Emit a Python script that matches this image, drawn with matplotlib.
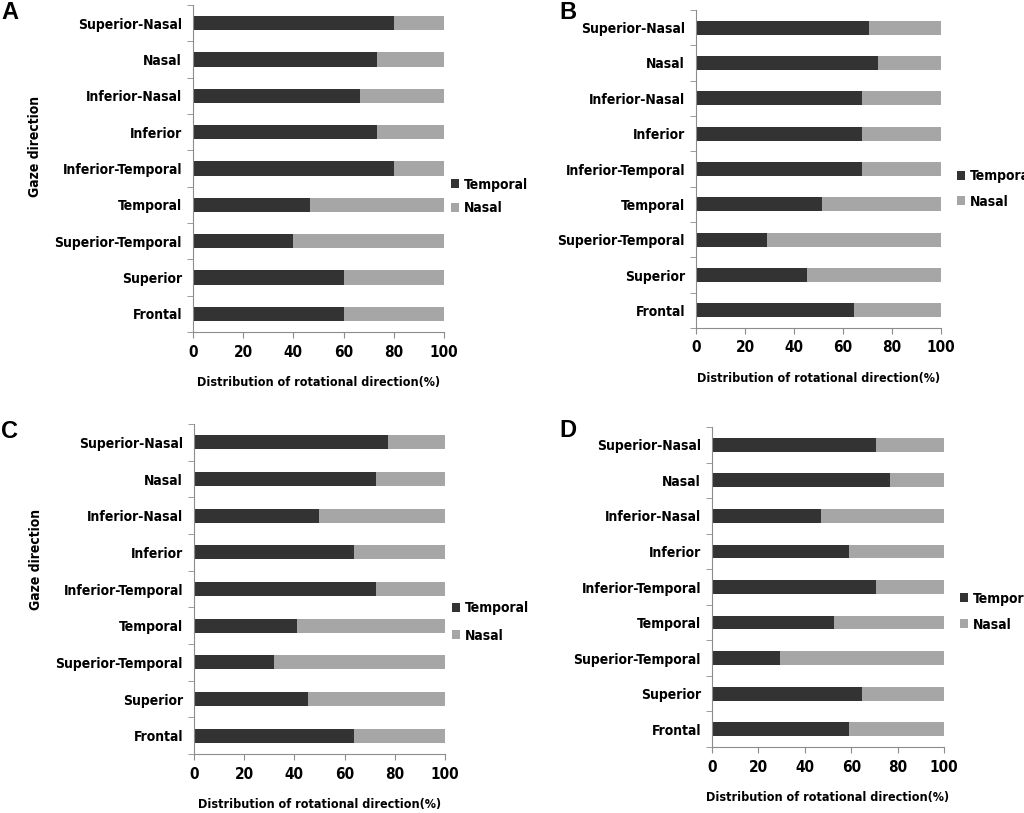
import numpy as np
import matplotlib
matplotlib.use("Agg")
import matplotlib.pyplot as plt

plt.rcParams["font.family"] = ["DejaVu Sans"]
plt.rcParams["font.stretch"] = "condensed"
plt.rcParams["font.weight"] = "bold"
plt.rcParams["axes.labelweight"] = "bold"

# categorias (de abajo hacia arriba)
categorias = [
    "Frontal", "Superior", "Superior-Temporal", "Temporal",
    "Inferior-Temporal", "Inferior", "Inferior-Nasal", "Nasal", "Superior-Nasal",
]

# porcentaje temporal por panel (mismo orden que categorias)
temporal_A = [60, 60, 40, 46.7, 80, 73.3, 66.7, 73.3, 80]
temporal_B = [64.4, 45.2, 28.8, 51.6, 67.9, 67.9, 67.9, 74.1, 70.7]
temporal_C = [63.6, 45.5, 31.7, 41.0, 72.5, 63.6, 49.9, 72.5, 77.4]
temporal_D = [59.0, 64.7, 29.4, 52.8, 70.5, 59.0, 47.1, 76.7, 70.5]

paneles = ["A", "B", "C", "D"]
series = [temporal_A, temporal_B, temporal_C, temporal_D]
leyendas = ["Temporal", "Nasal"]
xticks = [0, 20, 40, 60, 80, 100]

W, H = 1024, 813
fig = plt.figure(figsize=(W / 100, H / 100), dpi=100)


def rect(l, t, r, b):
    return [l / W, (H - b) / H, (r - l) / W, (b - t) / H]


# posiciones en pixeles: izquierda, arriba, derecha, abajo
cajas = [
    rect(193, 5, 444, 332),
    rect(696, 10, 941, 328),
    rect(194, 424, 445, 754),
    rect(712, 427, 944, 747),
]
letras_pos = [(1, 19), (559, 19), (1, 438), (559, 437)]
ylabel_pos = [(-0.60, 0.566), None, (-0.60, 0.59), None]
leyenda_pos = [(1.0, 0.414), (1.037, 0.437), (1.0, 0.40), (1.039, 0.423)]
leyenda_esp = [0.7, 0.8, 0.95, 0.85]

oscuro = "#333333"
claro = "#a6a6a6"
gris = "#8c8c8c"
fs = 10

for idx in range(4):
    ax = fig.add_axes(cajas[idx])
    temp = np.array(series[idx])
    nasal = 100 - temp
    y = np.arange(len(categorias))
    ax.barh(y, temp, height=0.39, color=oscuro, label=leyendas[0])
    ax.barh(y, nasal, left=temp, height=0.39, color=claro, label=leyendas[1])

    ax.set_xlim(0, 100)
    ax.set_ylim(-0.5, len(categorias) - 0.5)
    ax.set_xticks(xticks)
    ax.set_xticklabels([str(t) for t in xticks], fontsize=11)
    ax.set_yticks(y)
    ax.set_yticklabels(categorias, fontsize=fs)
    ax.set_yticks(np.arange(-0.5, len(categorias), 1), minor=True)
    ax.tick_params(axis="y", which="major", length=0, pad=8)
    ax.tick_params(axis="y", which="minor", length=4, color=gris)
    ax.tick_params(axis="x", length=4, color=gris, pad=5)

    for s in ["top", "right"]:
        ax.spines[s].set_visible(False)
    for s in ["left", "bottom"]:
        ax.spines[s].set_color(gris)

    ax.set_xlabel("Distribution of rotational direction(%)", fontsize=9, labelpad=12)
    if ylabel_pos[idx] is not None:
        ax.set_ylabel("Gaze direction", fontsize=10)
        ax.yaxis.set_label_coords(*ylabel_pos[idx])

    ax.legend(loc="center left", bbox_to_anchor=leyenda_pos[idx], frameon=False,
              fontsize=10, handlelength=0.6, handleheight=0.6,
              handletextpad=0.3, labelspacing=leyenda_esp[idx], borderpad=0)

    lx, ly = letras_pos[idx]
    fig.text(lx / W, 1 - ly / H, paneles[idx], fontsize=17, fontweight="bold",
             fontstretch="normal", family=["Liberation Sans", "DejaVu Sans"],
             va="baseline")

fig.savefig("out.png", dpi=100)
